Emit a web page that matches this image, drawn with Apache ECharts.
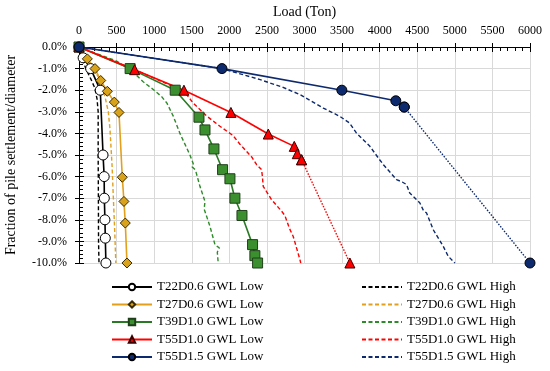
<!DOCTYPE html>
<html><head><meta charset="utf-8">
<script src="https://cdn.jsdelivr.net/npm/echarts@6/dist/echarts.min.js"></script>
<style>html,body{margin:0;padding:0;background:#fff}#c{width:550px;height:371px}</style>
</head><body><div id="c"></div>
<script>
// Load (Ton), settlement/diameter (%)
const t22Low  = [[0,0],[55,-0.5],[155,-1.0],[283,-2.0],[320,-5.0],[335,-6.0],[337,-7.0],[345,-8.0],[350,-8.85],[358,-10.0]];
const t22High = [[0,0],[40,-0.5],[90,-1.0],[160,-1.5],[210,-1.9],[240,-2.4],[255,-3.0],[255,-5.0],[258,-7.0],[260,-9.0],[266,-10.0]];
const t27Low  = [[0,0],[111,-0.55],[213,-1.0],[289,-1.55],[377,-2.05],[470,-2.55],[532,-3.03],[576,-6.03],[598,-7.15],[616,-8.15],[638,-10.0]];
const t27High = [[0,0],[150,-0.8],[279,-1.5],[346,-2.3],[390,-3.0],[412,-3.8],[440,-5.5],[456,-6.9],[475,-8.5],[490,-10.0]];
const t39Low  = [[0,0],[680,-1.0],[1280,-2.0],[1596,-3.25],[1676,-3.84],[1795,-4.72],[1910,-5.68],[2008,-6.1],[2074,-7.0],[2168,-7.8],[2309,-9.15],[2340,-9.66],[2376,-10.0]];
const t39High = [[0,0],[500,-0.65],[700,-1.1],[850,-1.6],[1000,-2.0],[1100,-2.3],[1170,-2.6],[1254,-3.2],[1343,-4.0],[1476,-5.0],[1520,-5.4],[1505,-5.55],[1550,-5.7],[1609,-6.45],[1676,-7.15],[1665,-7.5],[1742,-8.3],[1809,-9.15],[1866,-9.3],[1840,-9.5],[1852,-10.0]];
const t55aLow  = [[0,0],[740,-1.05],[1396,-2.0],[2021,-3.03],[2518,-4.03],[2864,-4.6],[2904,-4.94],[2961,-5.22],[3604,-10.0]];
const t55aHigh = [[0,0],[740,-1.05],[1400,-2.05],[1520,-2.6],[1700,-3.2],[1875,-3.67],[2050,-4.1],[2141,-4.5],[2300,-5.1],[2363,-5.45],[2429,-5.68],[2440,-6.0],[2451,-6.45],[2562,-7.07],[2695,-7.6],[2739,-7.8],[2800,-8.4],[2850,-8.77],[2939,-9.84],[2950,-10.0]];
const t55bLow  = [[0,0],[1902,-1.0],[3497,-2.0],[4215,-2.49],[4327,-2.78],[6000,-10.0]];
const t55bHigh = [[0,0],[1900,-1.0],[2400,-1.5],[2700,-1.85],[2940,-2.2],[3250,-2.83],[3470,-3.21],[3600,-3.52],[3690,-3.98],[3870,-4.6],[4000,-5.22],[4050,-5.45],[4225,-6.14],[4300,-6.25],[4358,-6.37],[4400,-6.76],[4535,-7.22],[4580,-7.55],[4624,-7.69],[4713,-8.46],[4846,-9.23],[4912,-9.69],[4979,-9.92],[5000,-10.0]];

const lowNames  = ['T22D0.6 GWL Low','T27D0.6 GWL Low','T39D1.0 GWL Low','T55D1.0 GWL Low','T55D1.5 GWL Low'];
const highNames = ['T22D0.6 GWL High','T27D0.6 GWL High','T39D1.0 GWL High','T55D1.0 GWL High','T55D1.5 GWL High'];

const FONT = 'Liberation Serif';
const C = {blk:'#000000', org:'#E2A01C', grn:'#2A7A25', grnF:'#3B8F2E', red:'#FF0000', nvy:'#0E2A6E'};

function low(name, data, color, symbol, size, fill, border){
  return {name, type:'line', data, z:5, clip:false, symbol, symbolSize:size, showSymbol:true,
    lineStyle:{color, width:1.6}, itemStyle:{color:fill, borderColor:border, borderWidth:1}};
}
function dotted(data, color, symbol, size, fill, border){
  return {name:'ext', type:'line', data, z:5, clip:false, symbol, symbolSize:size, showSymbol:true,
    lineStyle:{color, width:1.4, type:[1.5,1.5]}, itemStyle:{color:fill, borderColor:border, borderWidth:1}};
}
function high(name, data, color){
  return {name, type:'line', data, z:3, clip:false, symbol:'circle', symbolSize:0, showSymbol:false,
    lineStyle:{color, width:1.4, type:[4,2.5]}, itemStyle:{color:'rgba(0,0,0,0)', borderWidth:0, borderColor:'rgba(0,0,0,0)'}};
}

const series = [
  high(highNames[0], t22High, C.blk),
  high(highNames[1], t27High, C.org),
  high(highNames[2], t39High, '#2E8B2A'),
  high(highNames[3], t55aHigh, C.red),
  high(highNames[4], t55bHigh, C.nvy),
  low(lowNames[0], t22Low, C.blk, 'circle', 10, '#fff', '#000'),
  low(lowNames[1], t27Low, C.org, 'diamond', 10, '#D9A21B', '#3a2a00'),
  low(lowNames[2], t39Low, C.grn, 'rect', 10, C.grnF, '#1f3f1a'),
  low(lowNames[3], t55aLow.slice(0,-1), C.red, 'triangle', 10, '#FF0000', '#3a0000'),
  dotted(t55aLow.slice(-2), C.red, 'triangle', 10, '#FF0000', '#3a0000'),
  low(lowNames[4], t55bLow.slice(0,-1), C.nvy, 'circle', 10, C.nvy, '#000'),
  dotted(t55bLow.slice(-2), C.nvy, 'circle', 10, C.nvy, '#000')
];

const txt = {fontFamily:FONT, fontSize:13, color:'#000', lineHeight:14};
const chart = echarts.init(document.getElementById('c'), null, {renderer:'canvas'});
chart.setOption({
  animation:false,
  backgroundColor:'#fff',
  grid:{left:79, right:20, top:47, bottom:108, containLabel:false, outerBoundsMode:'none'},
  xAxis:[{
    type:'value', position:'top', min:0, max:6000, interval:500,
    name:'Load (Ton)', nameLocation:'middle', nameGap:28,
    nameTextStyle:{fontFamily:FONT, fontSize:14, color:'#000'},
    axisLine:{show:true, onZero:false, lineStyle:{color:'#000', width:1}},
    axisTick:{show:true, inside:true, length:5, lineStyle:{color:'#000'}},
    minorTick:{show:true, splitNumber:5, length:4, lineStyle:{color:'#000'}},
    axisLabel:{fontFamily:FONT, fontSize:12, color:'#000', margin:10, formatter:v=>String(v)},
    splitLine:{show:true, lineStyle:{color:'#D9D9D9', width:1}}
  },{
    type:'value', position:'top', min:0, max:6000, interval:500,
    axisLine:{show:false}, axisTick:{show:true, inside:false, length:4, lineStyle:{color:'#000'}},
    axisLabel:{show:false}, splitLine:{show:false}
  }],
  yAxis:[{
    type:'value', min:-10, max:0, interval:1,
    name:'Fraction of pile settlement/diameter', nameLocation:'middle', nameGap:61,
    nameTextStyle:{fontFamily:FONT, fontSize:14, color:'#000'},
    axisLine:{show:true, onZero:false, lineStyle:{color:'#000', width:1}},
    axisTick:{show:true, inside:true, length:5, lineStyle:{color:'#000'}},
    minorTick:{show:true, splitNumber:5, length:4, lineStyle:{color:'#000'}},
    axisLabel:{fontFamily:FONT, fontSize:12, color:'#000', margin:12, formatter:v=>v.toFixed(1)+'%'},
    splitLine:{show:true, lineStyle:{color:'#D9D9D9', width:1}}
  },{
    type:'value', position:'left', min:-10, max:0, interval:1,
    axisLine:{show:false}, axisTick:{show:true, inside:false, length:4, lineStyle:{color:'#000'}},
    axisLabel:{show:false}, splitLine:{show:false}
  }],
  legend:[{
    data:lowNames, orient:'vertical', left:106, top:275, height:96, itemWidth:40, itemHeight:8, itemGap:3.5,
    textStyle:txt
  },{
    data:highNames, orient:'vertical', left:356, top:275, height:96, itemWidth:40, itemHeight:8, itemGap:3.5,
    textStyle:txt
  }],
  series
});
</script></body></html>
